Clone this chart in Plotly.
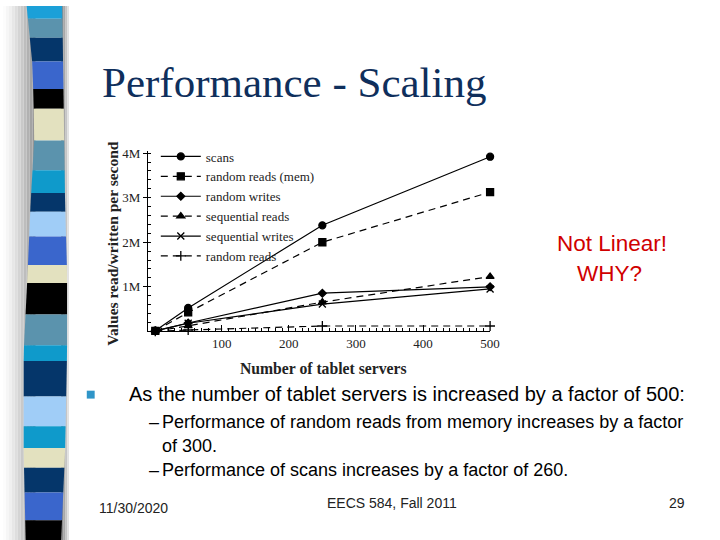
import numpy as np
import plotly.graph_objects as go

W, H = 720, 540

# chart data
servers = [1, 50, 250, 500]
series_names = ['scans', 'random reads (mem)', 'random writes',
                'sequential reads', 'sequential writes', 'random reads']
scans = [15e3, 526e3, 2.38e6, 3.92e6]
random_reads_mem = [11e3, 425e3, 2.0e6, 3.125e6]
random_writes = [9e3, 187e3, 856e3, 1.0e6]
sequential_reads = [4e3, 123e3, 656e3, 1.23e6]
sequential_writes = [9e3, 181e3, 613e3, 952e3]
random_reads = [1e3, 30e3, 120e3, 120e3]

x_ticks = [100, 200, 300, 400, 500]
y_ticks = [1e6, 2e6, 3e6, 4e6]
y_ticktext = ['1M', '2M', '3M', '4M']

# decorative stripe on the left of the slide: band bottoms (px) and colours
band_ends = [13, 32, 56, 84, 104, 136, 166, 189, 208, 233, 262, 280, 312,
             343, 359, 395, 425, 447, 467, 492, 520, 540]
band_colors = ['#1ba0d8', '#5b93ad', '#05366a', '#3a66cc', '#000000', '#e3e1bf',
               '#5b93ad', '#0f9acb', '#05366a', '#a0cdf7', '#3a66cc', '#e3e1bf',
               '#000000', '#5b93ad', '#0f9acb', '#05366a', '#a0cdf7', '#0f9acb',
               '#e3e1bf', '#05366a', '#3a66cc', '#000000']

styles = [
    dict(dash='solid', symbol='circle', size=7),
    dict(dash='7px,5px', symbol='square', size=7),
    dict(dash='solid', symbol='diamond', size=6),
    dict(dash='7px,5px', symbol='triangle-up', size=7),
    dict(dash='solid', symbol='x-thin', size=7),
    dict(dash='7px,5px', symbol='cross-thin', size=7),
]


def px(x):
    return x / W


def py(y):
    return 1 - y / H


fig = go.Figure()

for name, vals, st in zip(series_names,
                          [scans, random_reads_mem, random_writes,
                           sequential_reads, sequential_writes, random_reads],
                          styles):
    fig.add_trace(go.Scatter(
        x=servers, y=vals, name=name, mode='lines+markers',
        line=dict(color='black', width=1.2, dash=st['dash']),
        marker=dict(symbol=st['symbol'], size=st['size'], color='black',
                    line=dict(color='black', width=1.3)),
        cliponaxis=False,
    ))

shapes = []

# shadow behind stripe
for i in range(12):
    g = int(255 - (255 - 150) * (i / 11) ** 1.5)
    shapes.append(dict(type='rect', xref='paper', yref='paper', layer='below',
                       x0=px(i * 3), x1=px(i * 3 + 3), y0=0, y1=1,
                       fillcolor=f'rgb({g},{g},{g})', line_width=0))
for i in range(5):
    g = int(140 + (255 - 140) * (i / 4))
    shapes.append(dict(type='rect', xref='paper', yref='paper', layer='below',
                       x0=px(62 + i * 2), x1=px(64 + i * 2), y0=0, y1=1,
                       fillcolor=f'rgb({g},{g},{g})', line_width=0))

# stripe bands with a slightly wavy outline
edge_y = [0, 60, 130, 200, 270, 350, 450, 540]
left_x = [27, 33, 35, 31, 28, 24, 24, 26]
right_x = [63, 64, 65, 66, 68, 68, 66, 62]
top = 0
for bottom, col in zip(band_ends, band_colors):
    l0, l1 = np.interp([top, bottom], edge_y, left_x)
    r0, r1 = np.interp([top, bottom], edge_y, right_x)
    path = (f'M {px(l0)} {py(top)} L {px(r0)} {py(top)} '
            f'L {px(r1)} {py(bottom)} L {px(l1)} {py(bottom)} Z')
    shapes.append(dict(type='path', xref='paper', yref='paper', layer='below',
                       path=path, fillcolor=col, line_width=0))
    top = bottom

# bullet square
shapes.append(dict(type='rect', xref='paper', yref='paper',
                   x0=px(88), x1=px(96), y0=py(397), y1=py(389),
                   fillcolor='#2f95c8', line_width=0))

sans = 'Liberation Sans, Arial, sans-serif'
serif = 'Liberation Serif, Times New Roman, serif'

annotations = [
    dict(text='Performance - Scaling', x=px(101), y=py(77), xanchor='left',
         yanchor='middle', font=dict(family=serif, size=43, color='#0f2f5c')),
    dict(text='Not Linear!', x=px(621), y=py(240), xanchor='center',
         yanchor='middle', font=dict(family=sans, size=22.5, color='#d00000')),
    dict(text='WHY?', x=px(618), y=py(270), xanchor='center',
         yanchor='middle', font=dict(family=sans, size=22.5, color='#d00000')),
    dict(text='As the number of tablet servers is increased by a factor of 500:',
         x=px(129), y=py(392), xanchor='left', yanchor='middle',
         font=dict(family=sans, size=20, color='black')),
    dict(text='–', x=px(149), y=py(421), xanchor='left', yanchor='middle',
         font=dict(family=sans, size=18, color='black')),
    dict(text='Performance of random reads from memory increases by a factor',
         x=px(162), y=py(421), xanchor='left', yanchor='middle',
         font=dict(family=sans, size=18, color='black')),
    dict(text='of 300.', x=px(162), y=py(445), xanchor='left', yanchor='middle',
         font=dict(family=sans, size=18, color='black')),
    dict(text='–', x=px(149), y=py(469), xanchor='left', yanchor='middle',
         font=dict(family=sans, size=18, color='black')),
    dict(text='Performance of scans increases by a factor of 260.',
         x=px(162), y=py(469), xanchor='left', yanchor='middle',
         font=dict(family=sans, size=18, color='black')),
    dict(text='11/30/2020', x=px(98), y=py(508), xanchor='left', yanchor='middle',
         font=dict(family=sans, size=14, color='#222')),
    dict(text='EECS 584, Fall 2011', x=px(398), y=py(503), xanchor='center',
         yanchor='middle', font=dict(family=sans, size=14, color='#222')),
    dict(text='29', x=px(697), y=py(503), xanchor='right', yanchor='middle',
         font=dict(family=sans, size=14, color='#222')),
    dict(text='<b>Values read/written per second</b>', x=px(114), y=py(240),
         xanchor='center', yanchor='middle', textangle=-90,
         font=dict(family=serif, size=15.5, color='#222')),
    dict(text='<b>Number of tablet servers</b>', x=px(328), y=py(367),
         xanchor='center', yanchor='middle',
         font=dict(family=serif, size=15.7, color='#222')),
]
for a in annotations:
    a.update(xref='paper', yref='paper', showarrow=False)

fig.update_layout(
    width=W, height=H,
    margin=dict(l=0, r=0, t=0, b=0),
    paper_bgcolor='white', plot_bgcolor='white',
    shapes=shapes, annotations=annotations,
    showlegend=True,
    legend=dict(x=px(158), y=py(137), xanchor='left', yanchor='top',
                bgcolor='rgba(0,0,0,0)', itemwidth=40, tracegroupgap=0,
                font=dict(family=serif, size=13, color='#222')),
    xaxis=dict(domain=[px(150), px(497)], range=[-10, 500],
               showgrid=False, zeroline=False, showline=True,
               linecolor='black', linewidth=1.2,
               tickvals=x_ticks, ticks='inside', ticklen=6, tickcolor='black',
               tickfont=dict(family=serif, size=13, color='#222'),
               minor=dict(dtick=10, tick0=0, ticks='inside', ticklen=3,
                          tickcolor='black', showgrid=False)),
    yaxis=dict(domain=[py(329), py(147)], range=[0, 4.04e6],
               showgrid=False, zeroline=False, showline=True,
               linecolor='black', linewidth=1.2,
               tickvals=y_ticks, ticktext=y_ticktext, ticks='outside',
               ticklen=4, tickcolor='black',
               tickfont=dict(family=serif, size=13, color='#222'),
               minor=dict(dtick=2e5, tick0=0, ticks='inside', ticklen=3,
                          tickcolor='black', showgrid=False)),
)

# the page body has a default 8px margin; drop it so the slide fills the window
fig.write_html('out.html', config={'displayModeBar': False},
               post_script="document.body.style.margin='0';")
